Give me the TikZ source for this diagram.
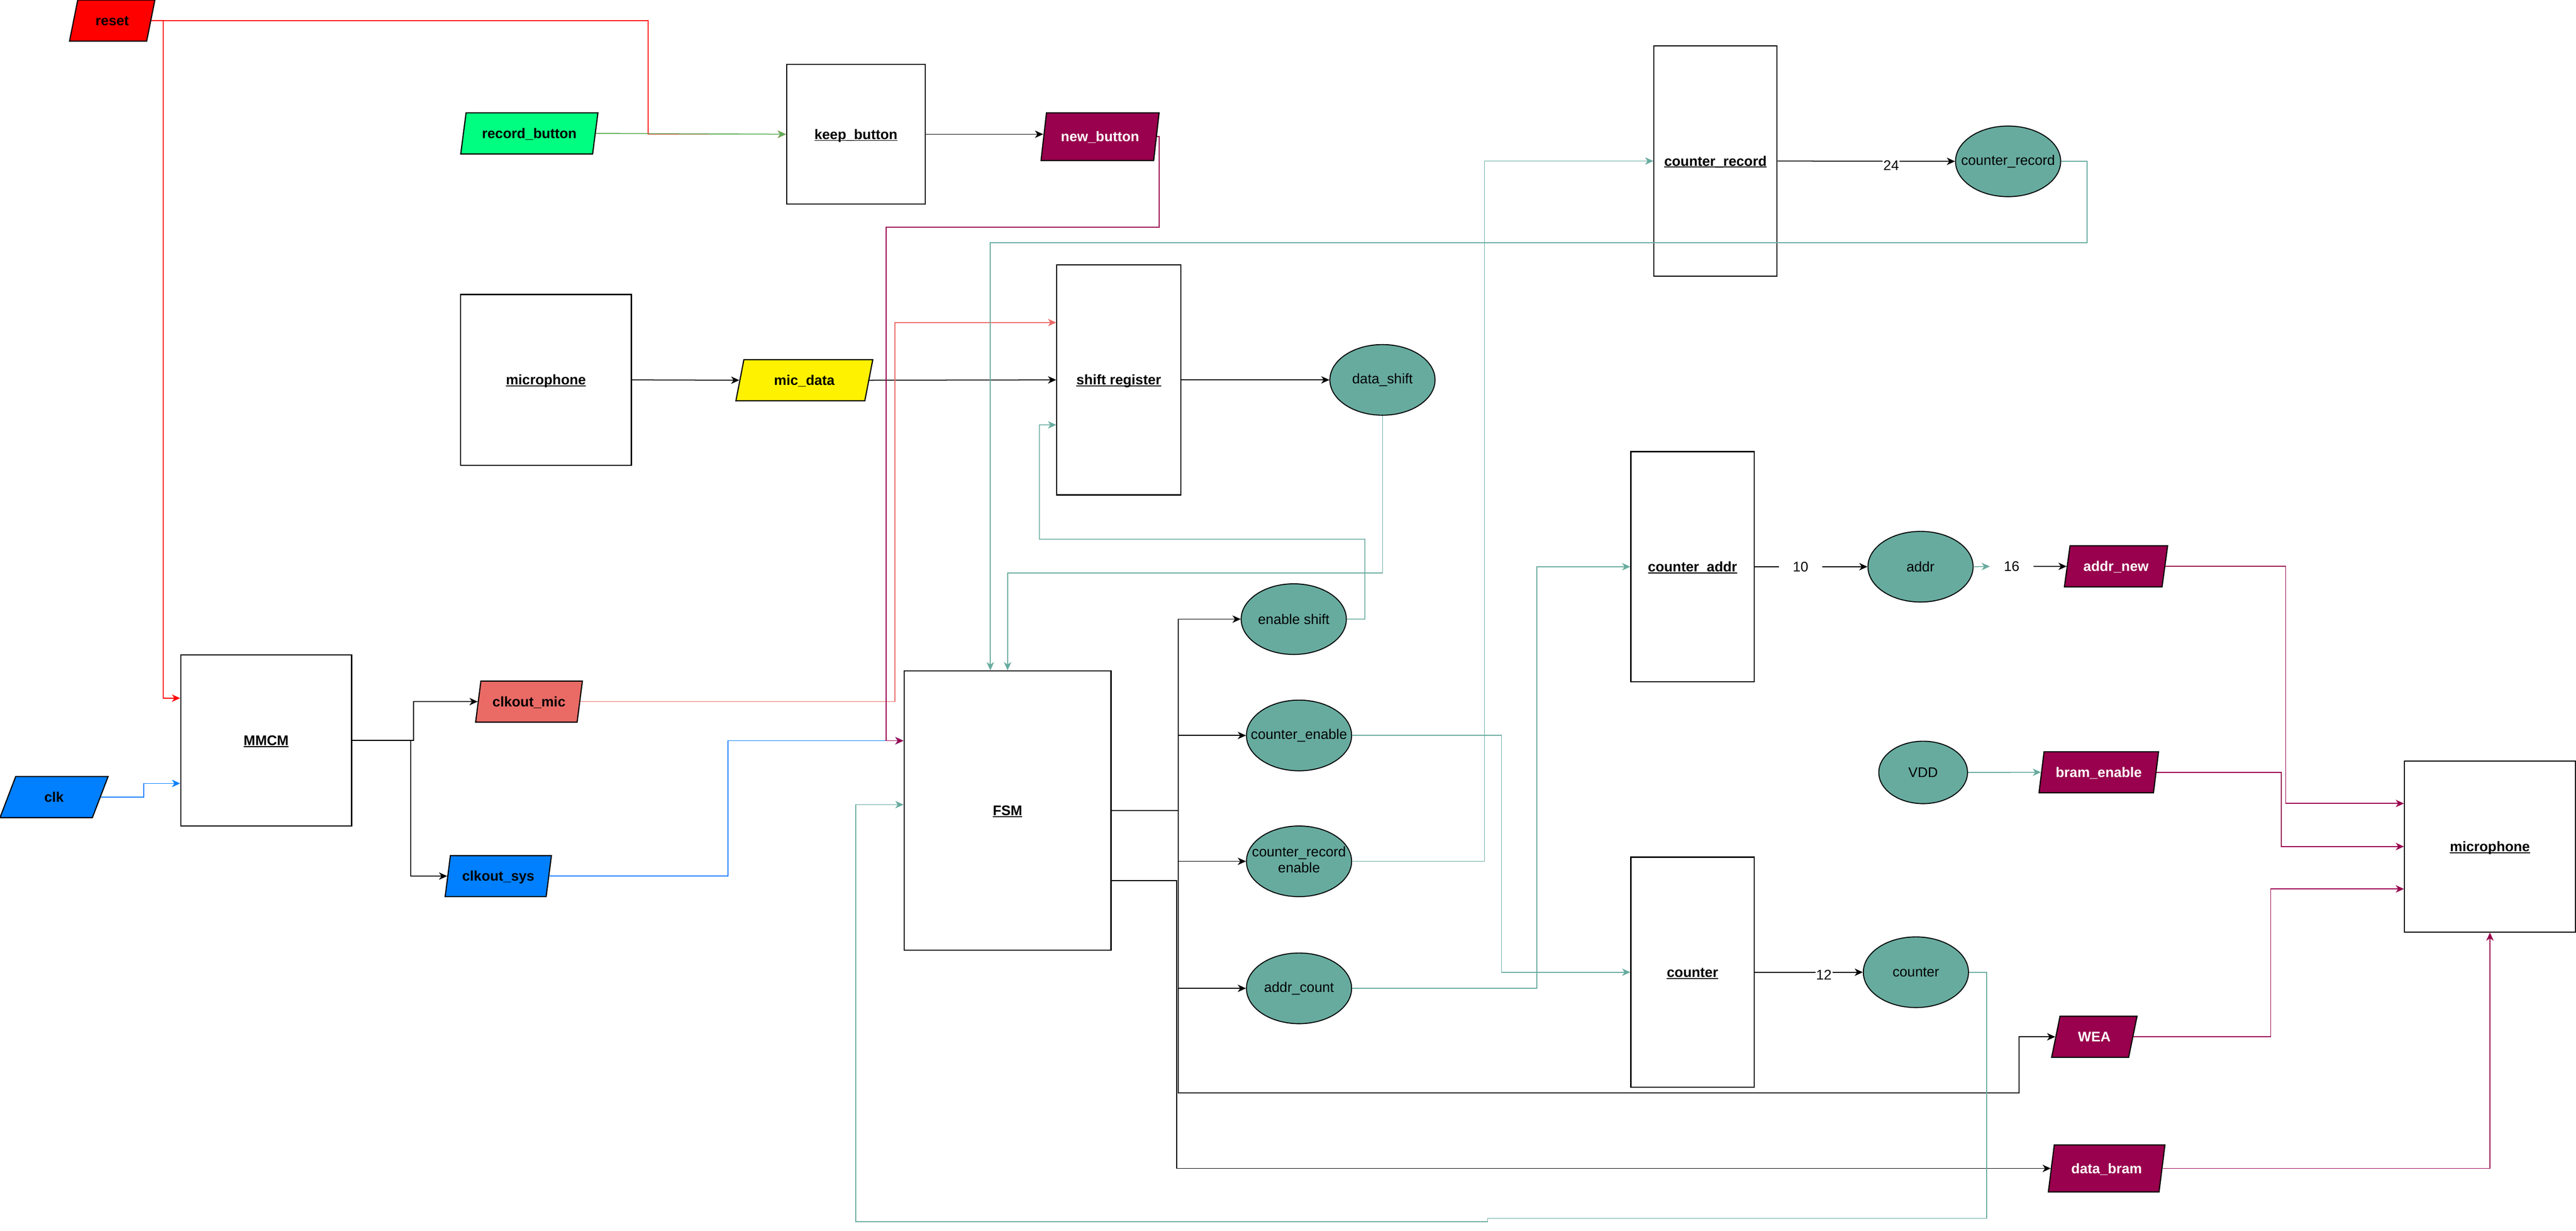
\documentclass[tikz,border=0pt]{standalone}
\usepackage{fontspec}
\setmainfont{Liberation Sans}
\usetikzlibrary{shapes.geometric,arrows.meta}

\definecolor{tealsig}{HTML}{67AB9F}
\definecolor{maroonio}{HTML}{99004D}
\definecolor{clkblue}{HTML}{007FFF}
\definecolor{micred}{HTML}{EA6B66}
\definecolor{btngreen}{HTML}{00FF80}
\definecolor{btnline}{HTML}{5FAE57}

\newcommand{\ulbox}[1]{\setbox0\hbox{#1}\rlap{\rule[-1pt]{\wd0}{0.55pt}}\box0}
\newcommand{\fitsig}[1]{\makebox[0pt]{#1}}

\begin{document}
\begin{tikzpicture}[x=1pt,y=-1pt,
        >={Stealth[length=5pt,width=4.5pt,inset=1.5pt]},
        line width=0.55pt,
        font=\fontsize{8.5}{10}\selectfont,
        blk/.style={draw,line width=0.7pt,minimum width=75pt,minimum height=140pt,inner sep=0pt,text height=6pt,text depth=0pt,font=\fontsize{8.5}{10}\selectfont\bfseries},
        io/.style={trapezium,trapezium left angle=68,trapezium right angle=112,trapezium stretches=true,draw,line width=0.7pt,inner sep=0pt,minimum height=25pt,text height=6pt,text depth=0pt,font=\fontsize{8.5}{10}\selectfont\bfseries},
        sig/.style={ellipse,draw,fill=tealsig,line width=0.6pt,minimum width=64pt,minimum height=43pt,inner sep=0pt},
        num/.style={inner sep=0pt,minimum width=26pt,minimum height=12pt},
        lbl/.style={fill=white,inner sep=0.5pt}]
                \useasboundingbox (0,0) rectangle (1568,749);

                \node[io,fill=red,minimum width=52pt] (reset) at (68.3,12.5) {reset};
                \node[io,fill=btngreen,minimum width=83.6pt] (recbtn) at (322.2,81.2) {record\_button};
                \node[blk,minimum width=84.5pt,minimum height=85pt] (keep) at (521,81.7) {\ulbox{keep\_button}};
                \node[io,fill=maroonio,text=white,minimum width=72pt,minimum height=29pt] (newbtn) at (669.6,83.2) {new\_button};
                \node[blk,minimum width=104pt,minimum height=104pt] (micin) at (332.3,231.2) {\ulbox{microphone}};
                \node[io,fill=yellow,minimum width=83.6pt] (micdata) at (489.6,231.4) {mic\_data};
                \node[blk,minimum width=75.5pt] (shift) at (681,231.2) {\ulbox{shift register}};
                \node[sig] (datashift) at (841.5,231.2) {data\_shift};
                \node[io,fill=clkblue,minimum width=65.8pt] (clk) at (32.9,485.1) {clk};
                \node[blk,minimum width=104pt,minimum height=104pt] (mmcm) at (162,450.6) {\ulbox{MMCM}};
                \node[io,fill=micred,minimum width=65pt] (clkmic) at (322,427) {clkout\_mic};
                \node[io,fill=clkblue,minimum width=65pt] (clksys) at (303.3,533.2) {clkout\_sys};
                \node[blk,minimum width=126pt,minimum height=170pt] (fsm) at (613.3,493.3) {\ulbox{FSM}};
                \node[sig] (ensh) at (787.5,376.8) {enable shift};
                \node[sig] (cen) at (790.7,447.6) {\fitsig{counter\_enable}};
                \node[sig] (crecen) at (790.7,524.2) {\fitsig{\begin{tabular}{@{}c@{}}counter\_record\\enable\end{tabular}}};
                \node[sig] (addrcnt) at (790.7,601.5) {addr\_count};
                \node[blk] (crec) at (1044.2,98) {\ulbox{counter\_record}};
                \node[sig] (crecv) at (1222.3,98.2) {\fitsig{counter\_record}};
                \node[blk] (caddr) at (1030.2,344.9) {\ulbox{counter\_addr}};
                \node[num] (bits10) at (1096,344.9) {10};
                \node[sig] (addr) at (1169,344.9) {addr};
                \node[num] (bits16) at (1224.5,344.7) {16};
                \node[io,fill=maroonio,text=white,minimum width=63pt] (addrnew) at (1288,344.7) {addr\_new};
                \node[sig,minimum width=54pt,minimum height=38pt] (vdd) at (1170.6,470.1) {VDD};
                \node[io,fill=maroonio,text=white,minimum width=73pt] (bramen) at (1277.5,470) {bram\_enable};
                \node[blk] (cnt) at (1030.2,591.7) {\ulbox{counter}};
                \node[sig] (cntv) at (1166.2,591.7) {counter};
                \node[io,fill=maroonio,text=white,minimum width=52pt] (wea) at (1274.8,631) {WEA};
                \node[io,fill=maroonio,text=white,minimum width=71pt,minimum height=28.6pt] (databram) at (1282.3,711.1) {data\_bram};
                \node[blk,minimum width=104pt,minimum height=104pt] (micout) at (1515.6,515.2) {\ulbox{microphone}};

                \draw[red,->] (reset.east) -| (394.4,81.7) -- (keep.west);
                \draw[red,->] (reset.east) -| (99.3,424.9) -- ([yshift=25.7pt]mmcm.west);
                \draw[btnline,->] (recbtn.east) -- (keep.west);
                \draw[->] (keep.east) -- (keep.east -| newbtn.west);
                \draw[->] (micin.east) -- (micdata.west);
                \draw[->] (micdata.east) -- (shift.west);
                \draw[micred,->] (clkmic.east) -| (544.8,196.3) -- ([yshift=34.9pt]shift.west);
                \draw[clkblue,->] (clk.east) -| (87.6,476.8) -- ([yshift=-26.2pt]mmcm.west);
                \draw[->] (mmcm.east) -| (251.7,427) -- (clkmic.west);
                \draw[->] (mmcm.east) -| (250,533.2) -- (clksys.west);
                \draw[clkblue,->] (clksys.east) -| (443,450.8) -- ([yshift=42.5pt]fsm.west);
                \draw[maroonio,->] (newbtn.east) -| (705.7,138.4) -| (539.5,450.8) -- ([yshift=42.5pt]fsm.west);
                \draw[->] (shift.east) -- (datashift.west);
                \draw[tealsig,->] (datashift.south) |- (613.3,348.7) -- (fsm.north);
                \draw[tealsig,->] (crecv.east) -| (1270.3,147.6) -| ([xshift=-10.5pt]fsm.north);
                \draw[tealsig,->] (ensh.east) -| (830.8,328.2) -| (632.7,258.6) -- ([yshift=-27.4pt]shift.west);

                \draw[->] (fsm.east) -- (717.1,493.3) |- (ensh.west);
                \draw[->] (fsm.east) -- (717.1,493.3) |- (cen.west);
                \draw[->] (fsm.east) -- (717.1,493.3) |- (crecen.west);
                \draw[->] (fsm.east) -- (717.1,493.3) |- (addrcnt.west);
                \draw[->] (fsm.east) -- (717.1,493.3) |- (1229,665.2) |- (wea.west);
                \draw[->] ([yshift=-42.7pt]fsm.east) -- (716.3,536) |- (databram.west);

                \draw[tealsig,->] (cen.east) -| (914,591.7) -- (cnt.west);
                \draw[tealsig,->] (addrcnt.east) -| (935.5,344.9) -- (caddr.west);
                \draw[tealsig,->] (crecen.east) -| (903.6,98) -- (crec.west);
                \draw[->] (crec.east) -- node[lbl,pos=0.64,yshift=-2.5pt] {24} (crecv.west);
                \draw (caddr.east) -- (bits10.west);
                \draw[->] (bits10.east) -- (addr.west);
                \draw[tealsig,->] (addr.east) -- (bits16.west);
                \draw[->] (bits16.east) -- (addrnew.west);
                \draw[->] (cnt.east) -- node[lbl,pos=0.64,yshift=-1.5pt] {12} (cntv.west);
                \draw[tealsig,->] (cntv.east) -| (1209.3,741.5) -| (905.5,743.5) -| (520.8,489.7) -- ([yshift=3.6pt]fsm.west);
                \draw[tealsig,->] (vdd.east) -- (bramen.west);

                \draw[maroonio,->] (addrnew.east) -| (1391.3,489) -- ([yshift=26.2pt]micout.west);
                \draw[maroonio,->] (bramen.east) -| (1388.7,515.2) -- (micout.west);
                \draw[maroonio,->] (wea.east) -| (1382.2,541) -- ([yshift=-25.8pt]micout.west);
                \draw[maroonio,->] (databram.east) -| (micout.south);
            \end{tikzpicture}
\end{document}
